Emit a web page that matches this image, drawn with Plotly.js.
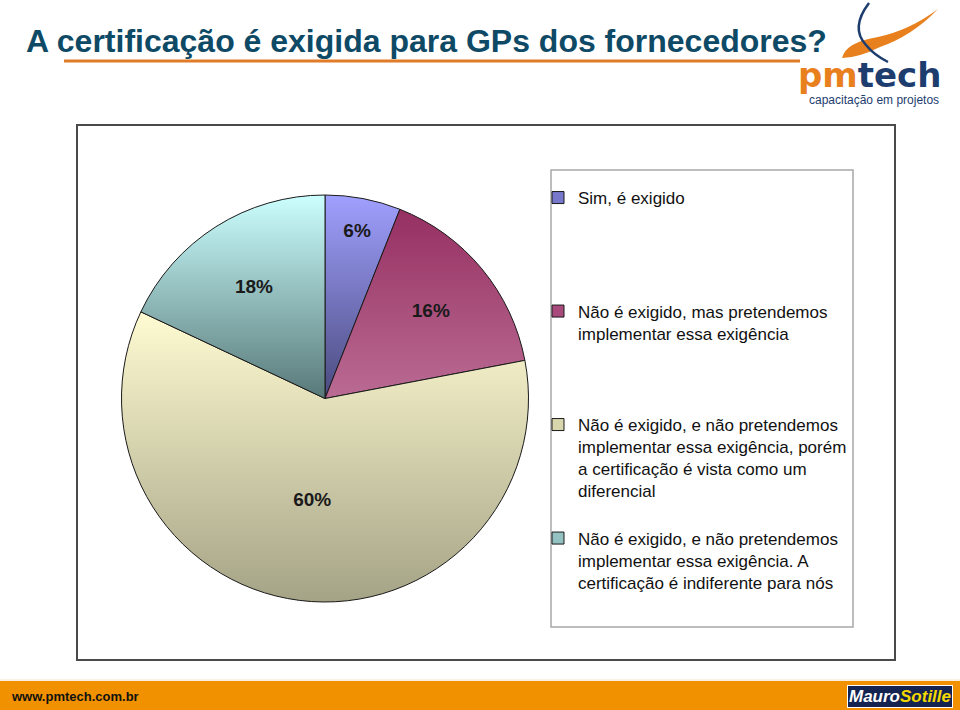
<!DOCTYPE html>
<html>
<head>
<meta charset="utf-8">
<script src="https://cdn.plot.ly/plotly-3.0.1.min.js"></script>
<style>
html,body{margin:0;padding:0;background:#fff;}
#chart{width:960px;height:710px;}
</style>
</head>
<body>
<div id="chart"></div>
<script>
// ---- data ----
const categories = [
  "Sim, é exigido",
  "Não é exigido, mas pretendemos<br>implementar essa exigência",
  "Não é exigido, e não pretendemos<br>implementar essa exigência, porém<br>a certificação é vista como um<br>diferencial",
  "Não é exigido, e não pretendemos<br>implementar essa exigência. A<br>certificação é indiferente para nós"
];
const values = [6, 16, 60, 18];
const sliceColors = ["#7777cc", "#a84a7c", "#d8d6ad", "#94c1c1"];
const gradTop = ["#a0a0ff", "#963062", "#fffbd2", "#ccffff"];
const gradBottom = ["#4a4a7e", "#ba6b93", "#a5a386", "#587878"];
const titleText = "A certificação é exigida para GPs dos fornecedores?";

// pixel -> paper helpers (margins are zero)
const W = 960, H = 710;
const X = p => p / W;
const Y = p => 1 - p / H;

// legend spacing: pad each entry to the same number of lines
const linesPer = 5;
const legendLabels = categories.map(c => {
  const n = c.split("<br>").length;
  let s = c;
  for (let i = n; i < linesPer; i++) s += "<br> ";
  return s;
});

const trace = {
  type: "pie",
  labels: legendLabels,
  values: values,
  sort: false,
  direction: "clockwise",
  rotation: 0,
  marker: {colors: sliceColors, line: {color: "#1a1a1a", width: 1}},
  texttemplate: "%{value}%",
  textposition: "inside",
  insidetextorientation: "horizontal",
  insidetextfont: {family: "Liberation Sans, Arial, sans-serif", size: 19, color: "#1a1a1a", weight: "bold"},
  hoverinfo: "none",
  domain: {x: [X(121.5), X(528.5)], y: [Y(602), Y(195)]}
};

function swoosh() {
  const p = (x, y) => X(x) + "," + Y(y);
  return "M" + p(842,58) + " Q" + p(846,42) + " " + p(878,37) + " Q" + p(910,30) + " " + p(938,9) +
         " Q" + p(912,36) + " " + p(880,47) + " Q" + p(858,58) + " " + p(842,58) + " Z";
}
function arc() {
  const p = (x, y) => X(x) + "," + Y(y);
  return "M" + p(869,3) + " Q" + p(850,28) + " " + p(866,45) + " Q" + p(874,55) + " " + p(888,62);
}

const layout = {
  width: W, height: H,
  margin: {l: 0, r: 0, t: 0, b: 0},
  paper_bgcolor: "#ffffff",
  font: {family: "Liberation Sans, Arial, sans-serif"},
  title: {
    text: "<b>" + titleText + "</b>",
    x: X(26), xanchor: "left", y: 1 - 41 / H, yanchor: "middle",
    font: {family: "Liberation Sans, Arial, sans-serif", size: 32, color: "#0e4a66"}
  },
  showlegend: true,
  legend: {
    x: X(538), xanchor: "left", y: Y(180), yanchor: "top",
    bgcolor: "rgba(0,0,0,0)", borderwidth: 0,
    font: {family: "Liberation Sans, Arial, sans-serif", size: 17, color: "#111111"},
    valign: "top", traceorder: "normal"
  },
  shapes: [
    {type: "rect", xref: "paper", yref: "paper", x0: X(77), x1: X(895), y0: Y(660), y1: Y(125),
     line: {color: "#4a4a4a", width: 2}, fillcolor: "rgba(0,0,0,0)", layer: "below"},
    {type: "rect", xref: "paper", yref: "paper", x0: X(551), x1: X(853), y0: Y(627), y1: Y(170),
     line: {color: "#a8a8a8", width: 1.5}, fillcolor: "#ffffff", layer: "below"},
    {type: "line", xref: "paper", yref: "paper", x0: X(64), x1: X(800), y0: Y(61), y1: Y(61),
     line: {color: "#e07b28", width: 3}},
    {type: "rect", xref: "paper", yref: "paper", x0: 0, x1: 1, y0: 0, y1: Y(681),
     line: {width: 0}, fillcolor: "#f29100"},
    {type: "line", xref: "paper", yref: "paper", x0: 0, x1: 1, y0: Y(680), y1: Y(680),
     line: {color: "#f6e2c4", width: 1}},
    {type: "path", xref: "paper", yref: "paper", path: swoosh(), fillcolor: "#e8801e", line: {width: 0}},
    {type: "path", xref: "paper", yref: "paper", path: arc(), line: {color: "#1d3d6e", width: 2.5}}
  ],
  annotations: [
    {xref: "paper", yref: "paper", x: X(796), y: Y(75), xanchor: "left", yanchor: "middle", showarrow: false,
     text: "<b><span style='color:#e8801e'>pm</span><span style='color:#1d3d6e'>tech</span></b>",
     font: {family: "DejaVu Sans, sans-serif", size: 34}},
    {xref: "paper", yref: "paper", x: X(807), y: Y(100), xanchor: "left", yanchor: "middle", showarrow: false,
     text: "capacitação em projetos",
     font: {family: "Liberation Sans, Arial, sans-serif", size: 12, color: "#1d3d6e"}},
    {xref: "paper", yref: "paper", x: X(9), y: Y(696), xanchor: "left", yanchor: "middle", showarrow: false,
     text: "<b>www.pmtech.com.br</b>",
     font: {family: "Liberation Sans, Arial, sans-serif", size: 13, color: "#111111"}},
    {xref: "paper", yref: "paper", x: X(900), y: Y(696), xanchor: "center", yanchor: "middle", showarrow: false,
     text: "<b><i><span style='color:#ffffff'>Mauro</span><span style='color:#f5d800'>Sotille</span></i></b>",
     font: {family: "Liberation Sans, Arial, sans-serif", size: 17},
     bgcolor: "#14234f", bordercolor: "#ffffff", borderwidth: 1, borderpad: 1}
  ]
};

Plotly.newPlot("chart", [trace], layout, {staticPlot: true, displayModeBar: false}).then(gd => {
  const svg = gd.querySelector("svg.main-svg");
  const NS = "http://www.w3.org/2000/svg";
  let defs = svg.querySelector("defs");
  if (!defs) { defs = document.createElementNS(NS, "defs"); svg.insertBefore(defs, svg.firstChild); }
  gradTop.forEach((c, i) => {
    const g = document.createElementNS(NS, "linearGradient");
    g.setAttribute("id", "sliceGrad" + i);
    g.setAttribute("x1", "0"); g.setAttribute("y1", "0");
    g.setAttribute("x2", "0"); g.setAttribute("y2", "1");
    const s1 = document.createElementNS(NS, "stop");
    s1.setAttribute("offset", "0"); s1.setAttribute("stop-color", c);
    const s2 = document.createElementNS(NS, "stop");
    s2.setAttribute("offset", "1"); s2.setAttribute("stop-color", gradBottom[i]);
    g.appendChild(s1); g.appendChild(s2); defs.appendChild(g);
  });
  gd.querySelectorAll("g.slice").forEach((sl, i) => {
    const p = sl.querySelector("path.surface");
    if (p) p.style.fill = "url(#sliceGrad" + i + ")";
  });
});
</script>
</body>
</html>
